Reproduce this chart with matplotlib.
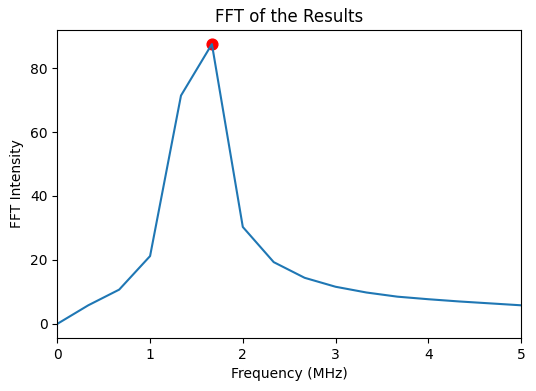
import matplotlib
matplotlib.use('Agg')
import matplotlib.pyplot as plt

freq = [0, 1/3, 2/3, 1, 4/3, 5/3, 2, 7/3, 8/3, 3, 10/3, 11/3, 4, 13/3, 14/3, 5]
intensity = [0.0, 5.8, 10.7, 21.2, 71.4, 87.5, 30.3, 19.3, 14.4, 11.6, 9.8, 8.5, 7.7, 7.0, 6.4, 5.8]

peak = intensity.index(max(intensity))

fig = plt.figure(figsize=(5.36, 3.91), dpi=100)
ax = fig.add_axes([0.107, 0.136, 0.865, 0.787])

ax.plot(freq, intensity)
# peak marker sits under the line, as in the original
ax.scatter([freq[peak]], [intensity[peak]], color='red', s=60)
ax.set_xlim(0, 5)
ax.set_title('FFT of the Results')
ax.set_xlabel('Frequency (MHz)')
ax.set_ylabel('FFT Intensity')

fig.savefig('out.png', dpi=100)
